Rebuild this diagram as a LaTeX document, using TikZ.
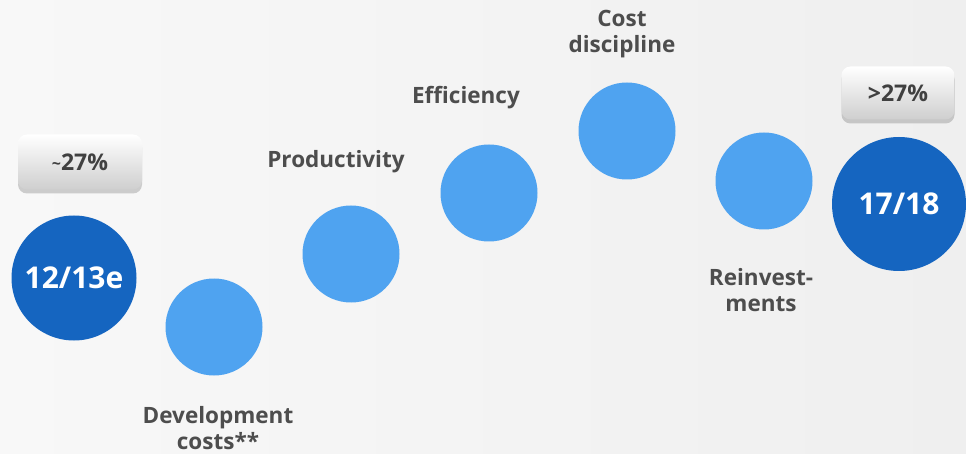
\documentclass[tikz,border=0pt]{standalone}
\usepackage{fontspec}
\setmainfont{Open Sans}
\usetikzlibrary{shadows}
\definecolor{darkblue}{HTML}{1565C0}
\definecolor{lightblue}{HTML}{4FA3F0}
\definecolor{txtgray}{HTML}{4D4D4D}
\definecolor{bgleft}{HTML}{F8F8F8}
\definecolor{bgright}{HTML}{EFEFEF}
\tikzset{
  bigcirc/.style={circle, fill=darkblue, text=white, font=\bfseries\fontsize{30}{30}\selectfont, inner sep=0pt},
  smallcirc/.style={circle, fill=lightblue, minimum size=97pt, inner sep=0pt},
  lbl/.style={text=txtgray, font=\bfseries\fontsize{22.5}{26}\selectfont, align=center, inner sep=0pt},
  pctbox/.style={rounded corners=9pt, top color=white, bottom color=black!19, text=black!75,
    font=\bfseries\fontsize{23}{23}\selectfont, inner sep=0pt,
    drop shadow={shadow xshift=0pt, shadow yshift=-4pt, opacity=0.25, fill=black!70}}
}
\begin{document}
\begin{tikzpicture}[x=1pt,y=-1pt]
\useasboundingbox (0,0) rectangle (966,454);
\shade[left color=bgleft, right color=bgright] (0,0) rectangle (966,454);
% big circles
\node[bigcirc, minimum size=125pt] (c1) at (74,278) {12/13e};
\node[bigcirc, minimum size=134pt] (c7) at (899,204) {17/18};
% small circles
\node[smallcirc] (c2) at (214,327) {};
\node[smallcirc] (c3) at (351,254) {};
\node[smallcirc] (c4) at (489,193) {};
\node[smallcirc] (c5) at (627,131) {};
\node[smallcirc] (c6) at (764,181) {};
% labels
\node[lbl] (l2) at (218,428) {Development\\costs**};
\node[lbl] (l3) at (336,162) {Productivity};
\node[lbl] (l4) at (466,98) {Efficiency};
\node[lbl] (l5) at (622,34) {Cost\\discipline};
\node[lbl] (l6) at (761,290) {Reinvest-\\ments};
% percent boxes
\node[pctbox, minimum width=124pt, minimum height=55pt] (b1) at (80,162) {\raisebox{1pt}{\fontsize{16}{16}\selectfont\char`~}27\%};
\node[pctbox, minimum width=113pt, minimum height=53pt] (b7) at (898,93) {>27\%};
\end{tikzpicture}
\end{document}
